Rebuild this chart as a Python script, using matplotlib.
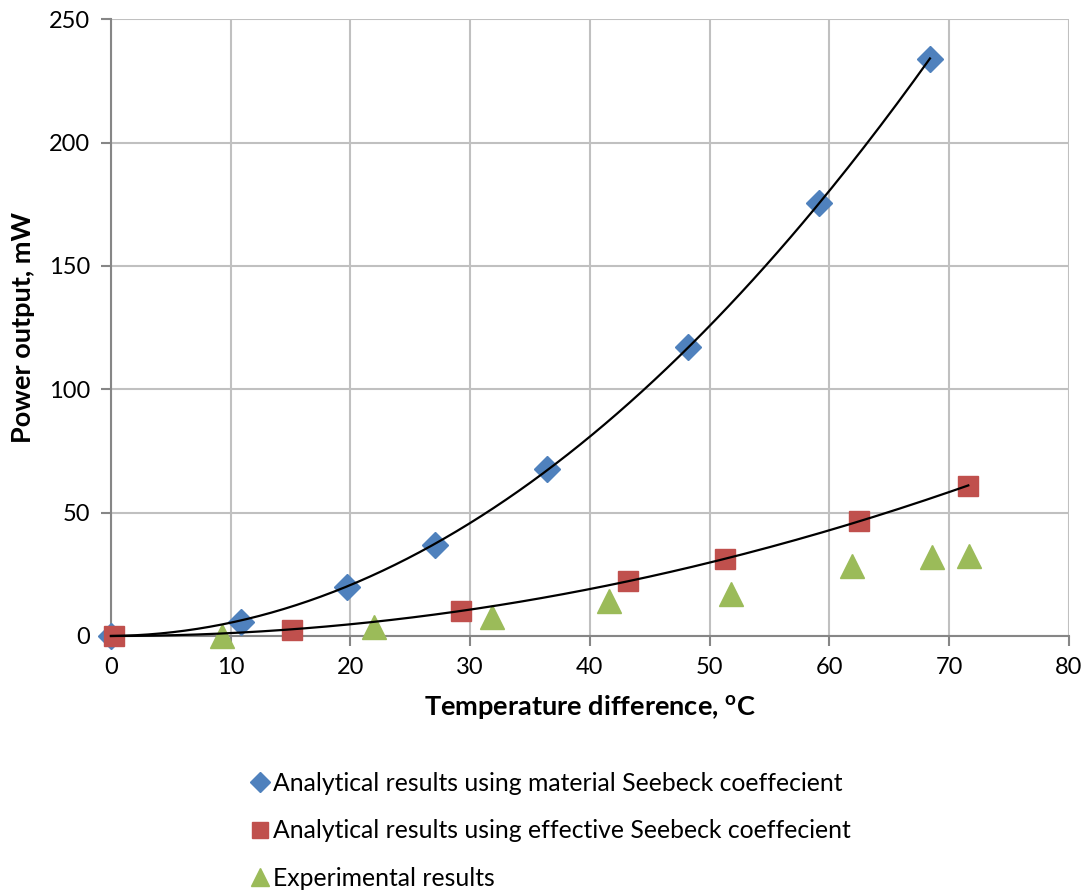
import numpy as np
import matplotlib
matplotlib.use("Agg")
from matplotlib import pyplot as plt

plt.rcParams['font.family'] = ['Lato', 'DejaVu Sans']
plt.rcParams['mathtext.fontset'] = 'custom'
plt.rcParams['mathtext.rm'] = 'Lato'
plt.rcParams['mathtext.bf'] = 'Lato:bold'

# Power output vs temperature difference
dt_material = [0.0, 10.9, 19.7, 27.1, 36.4, 48.2, 59.1, 68.4]
p_material = [0.0, 5.8, 20.0, 36.9, 67.7, 117.1, 175.5, 233.7]

dt_effective = [0.25, 15.1, 29.2, 43.2, 51.3, 62.5, 71.6]
p_effective = [0.0, 2.4, 10.3, 22.2, 31.3, 46.7, 60.9]

dt_exp = [9.3, 22.0, 31.8, 41.6, 51.8, 61.9, 68.6, 71.7]
p_exp = [0.0, 3.8, 7.6, 14.3, 17.0, 28.4, 32.1, 32.4]

labels = ['Analytical results using material Seebeck coeffecient',
          'Analytical results using effective Seebeck coeffecient',
          'Experimental results']

fig = plt.figure(figsize=(10.91, 8.92), dpi=100)
ax = fig.add_axes([0.1017, 0.287, 0.878, 0.6914])

grid_c = '#c0c0c0'
axis_c = '#868686'

ax.plot(dt_material, p_material, 'D', color='#4f81bd', markersize=13,
        label=labels[0], zorder=3, clip_on=False)
ax.plot(dt_effective, p_effective, 's', color='#c0504d', markersize=15,
        label=labels[1], zorder=3, clip_on=False)
ax.plot(dt_exp, p_exp, '^', color='#9bbb59', markersize=17,
        label=labels[2], zorder=3, clip_on=False)

# quadratic trendlines forced through the origin
for xs, ys in [(dt_material, p_material), (dt_effective, p_effective)]:
    xs = np.asarray(xs)
    A = np.column_stack([xs ** 2, xs])
    a, b = np.linalg.lstsq(A, np.asarray(ys), rcond=None)[0]
    xx = np.linspace(0, xs.max(), 200)
    ax.plot(xx, a * xx ** 2 + b * xx, color='black', lw=1.6, zorder=4,
            clip_on=False)

ax.set_xlim(0, 80)
ax.set_ylim(0, 250)
ax.set_xticks(np.arange(0, 81, 10))
ax.set_yticks(np.arange(0, 251, 50))
ax.grid(True, color=grid_c, lw=1.5)
ax.set_axisbelow(True)
for s in ['top', 'right']:
    ax.spines[s].set_visible(False)
for s in ['left', 'bottom']:
    ax.spines[s].set_color(axis_c)
    ax.spines[s].set_linewidth(1.5)
ax.tick_params(direction='out', length=7, width=1.5, color=axis_c,
               labelsize=17, pad=8)

ax.set_xlabel(r'Temperature difference, $\mathbf{^o}$C', fontsize=19.5,
              fontweight='bold', labelpad=11)
ax.set_ylabel('Power output, mW', fontsize=19.5, fontweight='bold', labelpad=10)

leg = fig.legend(loc='upper left', bbox_to_anchor=(0.222, 0.146), frameon=False,
                 fontsize=17.8, handlelength=0.6, handletextpad=0.25,
                 labelspacing=1.0, markerscale=0.8, borderaxespad=0)

fig.savefig('out.png', dpi=100)
